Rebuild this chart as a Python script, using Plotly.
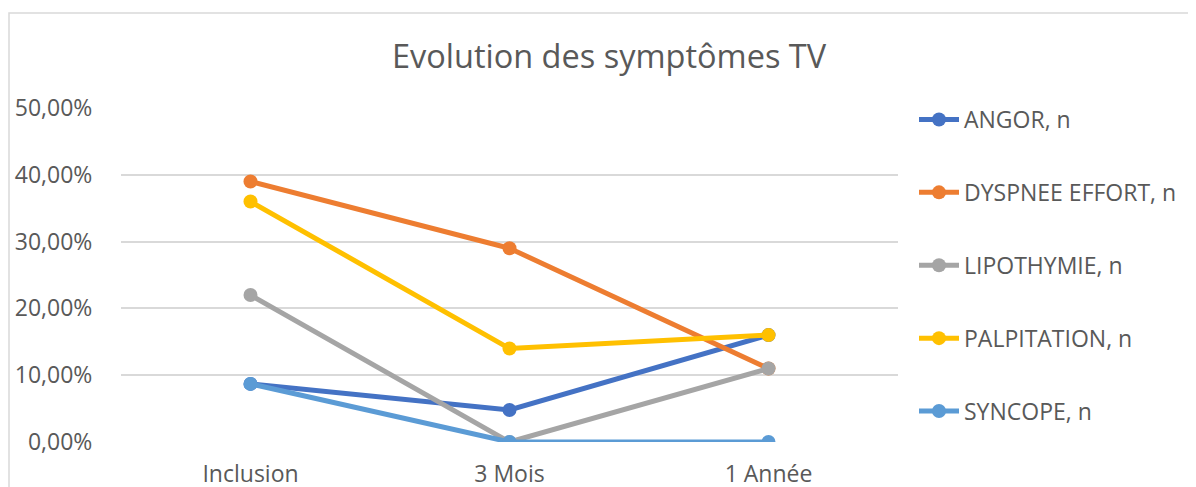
import plotly.graph_objects as go

categories = ["Inclusion", "3 Mois", "1 Année"]
series_names = ["ANGOR, n", "DYSPNEE EFFORT, n", "LIPOTHYMIE, n", "PALPITATION, n", "SYNCOPE, n"]
angor = [0.087, 0.048, 0.16]
dyspnee = [0.39, 0.29, 0.11]
lipothymie = [0.22, 0.0, 0.11]
palpitation = [0.36, 0.14, 0.16]
syncope = [0.087, 0.0, 0.0]
colors = ["#4472C4", "#ED7D31", "#A5A5A5", "#FFC000", "#5B9BD5"]
y_ticks = [0, 0.1, 0.2, 0.3, 0.4, 0.5]
y_tick_labels = ["0,00%", "10,00%", "20,00%", "30,00%", "40,00%", "50,00%"]

FONT = "Open Sans"
W, H = 1196, 487
ML, MT = 113, 100
PW, PH = 777, 334
MR = W - ML - PW
MB = H - MT - PH

fig = go.Figure()
for i, (name, vals) in enumerate(zip(series_names, [angor, dyspnee, lipothymie, palpitation, syncope])):
    fig.add_trace(go.Scatter(
        x=categories, y=vals, name=name, mode="lines+markers",
        line=dict(color=colors[i], width=5),
        marker=dict(color=colors[i], size=14),
        legendgroup=name,
    ))

# chart-area frame (left and top visible, rest outside the picture)
fig.add_shape(type="rect", xref="paper", yref="paper",
              x0=(1 - ML) / PW, x1=(W + 20 - ML) / PW,
              y0=1 - (H + 20 - MT) / PH, y1=1 - (5 - MT) / PH,
              line=dict(color="#D9D9D9", width=1.5), fillcolor="rgba(0,0,0,0)", layer="below")

fig.update_layout(
    width=W, height=H,
    margin=dict(l=ML, r=MR, t=MT, b=MB, autoexpand=False),
    paper_bgcolor="white", plot_bgcolor="white",
    font=dict(family=FONT, color="#595959", size=23),
    title=dict(text="Evolution des symptômes TV", x=601 / W, xanchor="center",
               y=1 - 49 / H, yanchor="middle", font=dict(size=32.5, color="#595959", family=FONT)),
    showlegend=True,
    legend=dict(x=(906 - ML) / PW, xanchor="left", y=1 - (90 - MT) / PH, yanchor="top",
                font=dict(size=23, color="#595959", family=FONT),
                tracegroupgap=40, itemwidth=40, bgcolor="rgba(0,0,0,0)", maxheight=480),
    xaxis=dict(showgrid=False, showline=False, zeroline=False, ticks="outside", ticklen=11,
               tickcolor="rgba(0,0,0,0)", tickfont=dict(size=23, color="#595959"),
               automargin=False, range=[-0.5, 2.5]),
    yaxis=dict(range=[0, 0.5], tickvals=y_ticks, ticktext=y_tick_labels, showgrid=True,
               gridcolor="#D9D9D9", gridwidth=1.5, zeroline=False, showline=False,
               ticks="outside", ticklen=23, tickcolor="rgba(0,0,0,0)",
               tickfont=dict(size=23, color="#595959"), automargin=False),
)

fig.write_html("out.html")
